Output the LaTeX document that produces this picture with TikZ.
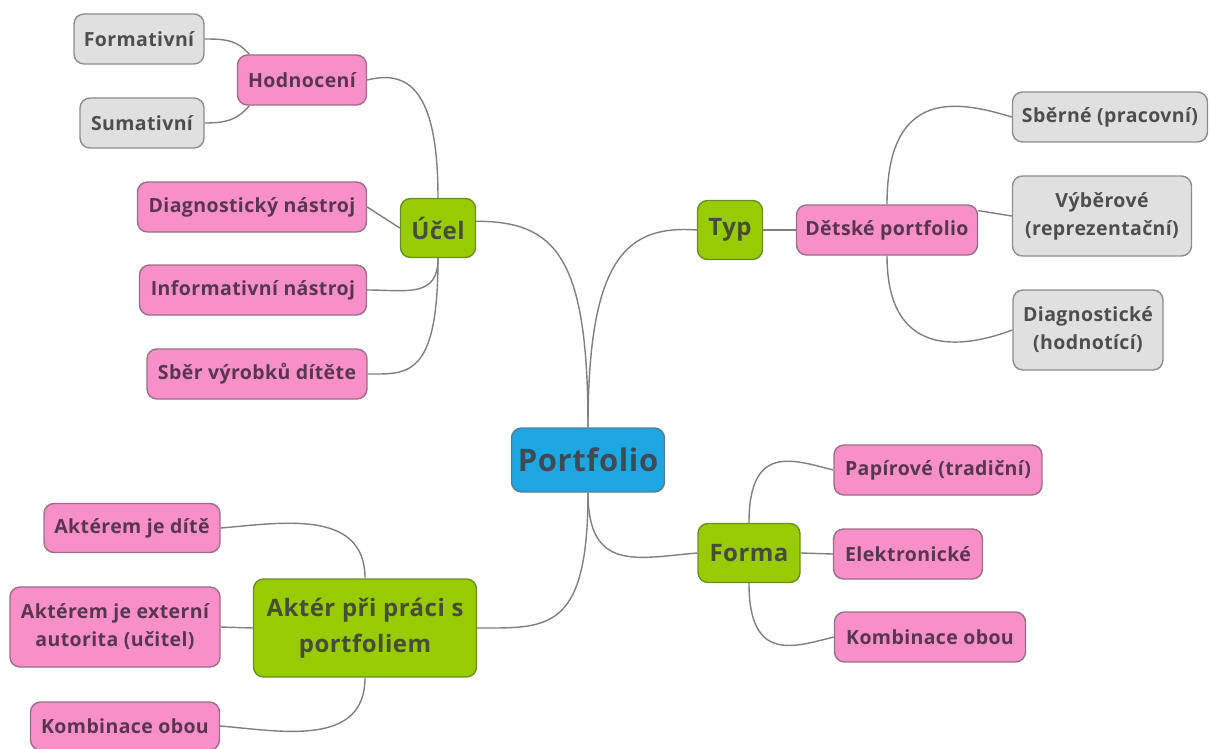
\documentclass[tikz,border=0pt]{standalone}
\usepackage{fontspec}
\setmainfont[LetterSpace=2]{Open Sans}
\definecolor{pinkf}{HTML}{F78FC9}
\definecolor{pinkd}{HTML}{9A6F86}
\definecolor{pinkt}{HTML}{5A3550}
\definecolor{greyf}{HTML}{E0E0E0}
\definecolor{greyd}{HTML}{8C8C8C}
\definecolor{greyt}{HTML}{4E4E4E}
\definecolor{greenf}{HTML}{99CC00}
\definecolor{greend}{HTML}{6B8E23}
\definecolor{greent}{HTML}{474D38}
\definecolor{bluef}{HTML}{1EA6E0}
\definecolor{blued}{HTML}{5A7E94}
\definecolor{bluet}{HTML}{3F4A55}
\definecolor{linec}{HTML}{7F7F7F}
\tikzset{
  x=1pt, y=-1pt,
  box/.style={rounded corners=10pt, line width=1.4pt, align=center, inner sep=0pt,
    font=\bfseries\fontsize{19.5}{28}\selectfont},
  pinkbox/.style={box, fill=pinkf, draw=pinkd, text=pinkt},
  greybox/.style={box, fill=greyf, draw=greyd, text=greyt},
  greenbox/.style={box, fill=greenf, draw=greend, text=greent, font=\bfseries\fontsize{24}{36}\selectfont},
  bluebox/.style={box, fill=bluef, draw=blued, text=bluet, font=\bfseries\fontsize{31}{36}\selectfont},
  link/.style={draw=linec, line width=1.4pt},
  sz/.style 2 args={minimum width=#1pt, minimum height=#2pt}
}
\begin{document}
\begin{tikzpicture}
\useasboundingbox (0,0) rectangle (1210,749);
% nodes
\node[greybox, sz={130}{50}] (form) at (139,39) {Formativní};
\node[pinkbox, sz={129}{50}] (hodn) at (302,80) {Hodnocení};
\node[greybox, sz={124}{50}] (sum) at (142,123) {Sumativní};
\node[pinkbox, sz={229}{50}] (diag) at (252,207) {Diagnostický nástroj};
\node[greenbox, sz={75}{59}] (ucel) at (438,228) {Účel};
\node[pinkbox, sz={227}{50}] (info) at (253,290) {Informativní nástroj};
\node[pinkbox, sz={220}{50}] (sber) at (257,374) {Sběr výrobků dítěte};
\node[bluebox, sz={153}{64}] (port) at (588,460) {Portfolio};
\node[greenbox, sz={65}{59}] (typ) at (730,230) {Typ};
\node[pinkbox, sz={181}{50}] (det) at (887,230) {Dětské portfolio};
\node[greybox, sz={195}{50}] (sberne) at (1110,117) {Sběrné (pracovní)};
\node[greybox, sz={179}{80}] (vyb) at (1102,216) {Výběrové\\(reprezentační)};
\node[greybox, sz={150}{80}] (diagn) at (1088,330) {Diagnostické\\(hodnotící)};
\node[pinkbox, sz={208}{50}] (pap) at (938,470) {Papírové (tradiční)};
\node[greenbox, sz={102}{59}] (forma) at (749,553) {Forma};
\node[pinkbox, sz={149}{50}] (elek) at (908,554) {Elektronické};
\node[pinkbox, sz={191}{50}] (kombr) at (930,637) {Kombinace obou};
\node[pinkbox, sz={176}{49}] (dite) at (132,528) {Aktérem je dítě};
\node[pinkbox, sz={210}{80}] (ext) at (115,627) {Aktérem je externí\\autorita (učitel)};
\node[greenbox, sz={223}{98}] (akter) at (365,628) {Aktér při práci s\\portfoliem};
\node[pinkbox, sz={189}{48}] (kombl) at (125,726) {Kombinace obou};
% connectors
\draw[link] (port.north) .. controls +(0,-170) and +(80,0) .. (ucel.10);
\draw[link] (port.north) .. controls +(0,-170) and +(-70,-5) .. (typ.west);
\draw[link] (port.south) .. controls +(0,80) and +(-60,5) .. (forma.west);
\draw[link] (port.south) .. controls +(0,140) and +(70,0) .. (akter.east);
\draw[link] (ucel.north) .. controls +(0,-110) and +(40,-10) .. (hodn.east);
\draw[link] (diag.east) -- (ucel.west);
\draw[link] (ucel.south) .. controls +(0,40) and +(40,0) .. (info.east);
\draw[link] (ucel.south) .. controls +(0,120) and +(40,0) .. (sber.east);
\draw[link] (hodn.154) .. controls +(-12,-14) and +(22,0) .. (form.east);
\draw[link] (hodn.206) .. controls +(-12,14) and +(22,0) .. (sum.east);
\draw[link] (typ.east) -- (det.west);
\draw[link] (det.north) .. controls +(0,-120) and +(-50,-15) .. (sberne.west);
\draw[link] (det.12) -- (vyb.west);
\draw[link] (det.south) .. controls +(0,110) and +(-40,15) .. (diagn.west);
\draw[link] (forma.north) .. controls +(0,-80) and +(-40,-10) .. (pap.west);
\draw[link] (forma.east) -- (elek.west);
\draw[link] (forma.south) .. controls +(0,80) and +(-40,10) .. (kombr.west);
\draw[link] (akter.north) .. controls +(0,-70) and +(60,-5) .. (dite.east);
\draw[link] (ext.east) -- (akter.west);
\draw[link] (akter.south) .. controls +(0,70) and +(60,5) .. (kombl.east);
\end{tikzpicture}
\end{document}
